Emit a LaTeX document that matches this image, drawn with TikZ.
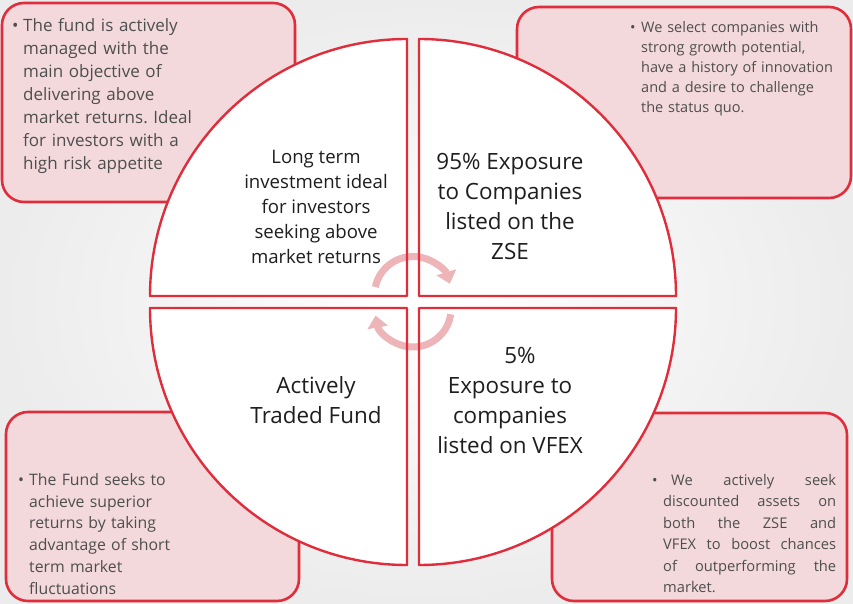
\documentclass[tikz,border=0pt]{standalone}
\usepackage{fontspec}
\setmainfont{Open Sans}
\usetikzlibrary{arrows.meta}
\frenchspacing
\definecolor{bxred}{HTML}{E02D3C}
\definecolor{bxfill}{HTML}{F3D9DB}
\definecolor{arcpink}{HTML}{EDB5B7}
\definecolor{txtgray}{HTML}{4E4E4E}
\definecolor{qtxt}{HTML}{1E1E1E}
\definecolor{bgcol}{HTML}{ECECEC}
\newcommand\qTL{(407,307) -- (150,307) arc[start angle=180,end angle=90,radius=257] -- cycle}
\newcommand\qTR{(419,307) -- (419,564) arc[start angle=90,end angle=0,radius=257] -- cycle}
\newcommand\qBL{(407,295) -- (407,38) arc[start angle=270,end angle=180,radius=257] -- cycle}
\newcommand\qBR{(419,295) -- (676,295) arc[start angle=0,end angle=-90,radius=257] -- cycle}
\newcommand\bul{\makebox[11pt][l]{•}}
\begin{document}
\begin{tikzpicture}[x=1pt,y=1pt,
  infobox/.style={draw=bxred, line width=2.6pt, fill=bxfill, rounded corners=22pt},
  quadfill/.style={fill=white},
  quadline/.style={draw=bxred, line width=2.4pt, line join=round},
  cyc/.style={draw=arcpink, line width=7pt, -{Triangle[width=20pt,length=12pt]}},
  qtext/.style={align=center, font=\fontsize{22.4}{30}\selectfont, text=qtxt, inner sep=0pt},
  btext/.style={text=txtgray, anchor=north west, inner sep=0pt},
  ]
\useasboundingbox (0,0) rectangle (853,603);
\shade[inner color=white, outer color=bgcol] (0,0) rectangle (853,603);
% info boxes
\draw[infobox] (2,401) rectangle (295,600);
\draw[infobox] (517,405) rectangle (851,596);
\draw[infobox] (6,2) rectangle (299,191);
\draw[infobox] (552,2) rectangle (847,190);
% quadrants
\path[quadfill] \qTL; \path[quadfill] \qTR; \path[quadfill] \qBL; \path[quadfill] \qBR;
\draw[cyc] (413,308) ++(168:38.5) arc[start angle=168,end angle=17,radius=38.5];
\draw[cyc] (413,294) ++(-8:38) arc[start angle=-8,end angle=-170,radius=38];
\path[quadline] \qTL; \path[quadline] \qTR; \path[quadline] \qBL; \path[quadline] \qBR;
% quadrant texts
\node[qtext, font=\fontsize{18.6}{25}\selectfont] (tl) at (316,396) {Long term\\investment ideal\\for investors\\seeking above\\market returns};
\node[qtext] (tr) at (510,397) {95\% Exposure\\to Companies\\listed on the\\ZSE};
\node[qtext] (bl) at (316,203) {Actively\\Traded Fund};
\node[qtext] (br) at (510,203) {\hspace*{20pt}5\%\\Exposure to\\companies\\listed on VFEX};
% box texts
\node[btext, text width=240pt, align=left, font=\fontsize{17}{23}\selectfont] (tlb) at (12,585)
 {\hangindent=11pt\hangafter=1\bul The fund is actively\newline managed with the\newline main objective of\newline delivering above\newline market returns. Ideal\newline for investors with a\newline high risk appetite\par};
\node[btext, text width=220pt, align=left, font=\fontsize{14.5}{20}\selectfont] (trb) at (630,582)
 {\hangindent=11pt\hangafter=1\bul We select companies with\newline strong growth potential,\newline have a history of innovation\newline and a desire to challenge\newline the status quo.\par};
\node[btext, text width=220pt, align=left, font=\fontsize{15.8}{21.8}\selectfont] (blb) at (18,130)
 {\hangindent=11pt\hangafter=1\bul The Fund seeks to\newline achieve superior\newline returns by taking\newline advantage of short\newline term market\newline fluctuations\par};
\node[btext, text width=184pt, align=justify, font=\fontsize{14.7}{21.5}\selectfont] (brb) at (652,129)
 {\hangindent=11pt\hangafter=1\bul\hspace{8pt}We actively seek\linebreak discounted assets on\linebreak both the ZSE and\linebreak VFEX to boost chances\linebreak of outperforming the\linebreak market.\par};
\end{tikzpicture}
\end{document}
